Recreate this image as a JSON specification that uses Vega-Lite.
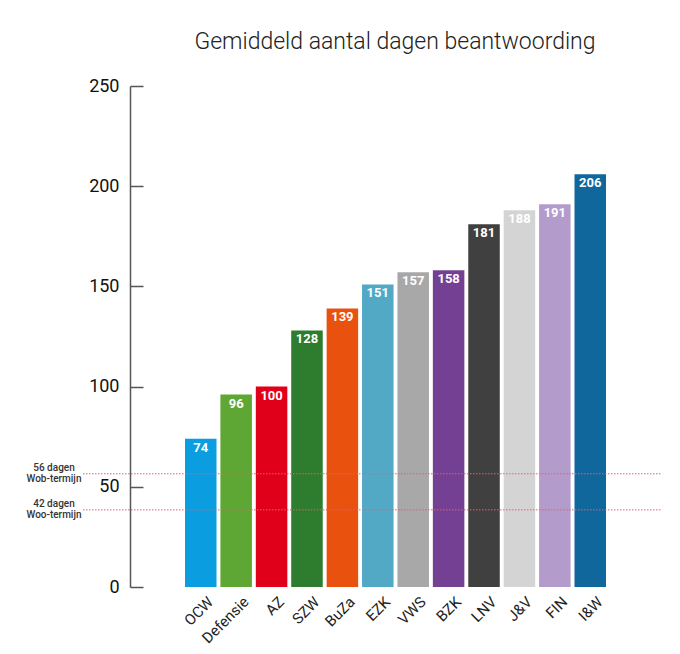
{
  "$schema": "https://vega.github.io/schema/vega-lite/v6.json",
  "width": 530,
  "height": 501,
  "autosize": {"type": "none"},
  "padding": {"left": 130, "top": 86, "right": 20, "bottom": 67},
  "background": "white",
  "config": {
    "font": "Roboto",
    "view": {"stroke": null}
  },
  "title": {
    "text": "Gemiddeld aantal dagen beantwoording",
    "fontSize": 23,
    "fontWeight": 300,
    "color": "#222222",
    "anchor": "middle",
    "offset": 23
  },
  "datasets": {
    "bars": [
      {"dept": "OCW", "dagen": 74},
      {"dept": "Defensie", "dagen": 96},
      {"dept": "AZ", "dagen": 100},
      {"dept": "SZW", "dagen": 128},
      {"dept": "BuZa", "dagen": 139},
      {"dept": "EZK", "dagen": 151},
      {"dept": "VWS", "dagen": 157},
      {"dept": "BZK", "dagen": 158},
      {"dept": "LNV", "dagen": 181},
      {"dept": "J&V", "dagen": 188},
      {"dept": "FIN", "dagen": 191},
      {"dept": "I&W", "dagen": 206}
    ],
    "termijnen": [
      {"pos": 56.5, "label": ["56 dagen", "Wob-termijn"]},
      {"pos": 38.5, "label": ["42 dagen", "Woo-termijn"]}
    ]
  },
  "layer": [
    {
      "data": {"name": "bars"},
      "mark": {"type": "bar"},
      "encoding": {
        "x": {
          "field": "dept",
          "type": "nominal",
          "sort": null,
          "scale": {"range": [55, 476], "paddingInner": 0.11, "paddingOuter": 0},
          "axis": {
            "title": null,
            "ticks": false,
            "domain": false,
            "labelAngle": -45,
            "labelFontSize": 15,
            "labelFontWeight": 400,
            "labelColor": "#222222",
            "labelPadding": 7,
            "labelOffset": 5
          }
        },
        "y": {
          "field": "dagen",
          "type": "quantitative",
          "scale": {"domain": [0, 250], "nice": false},
          "axis": {
            "title": null,
            "grid": false,
            "values": [0, 50, 100, 150, 200, 250],
            "tickSize": -13,
            "tickColor": "#555555",
            "tickWidth": 1.5,
            "domainColor": "#555555",
            "domainWidth": 1.5,
            "labelFontSize": 18,
            "labelColor": "#111111",
            "labelPadding": 24
          }
        },
        "color": {
          "field": "dept",
          "type": "nominal",
          "legend": null,
          "scale": {
            "domain": ["OCW", "Defensie", "AZ", "SZW", "BuZa", "EZK", "VWS", "BZK", "LNV", "J&V", "FIN", "I&W"],
            "range": ["#0a9ee0", "#5ea734", "#e1001a", "#2e7d2e", "#e8510e", "#52a9c5", "#a8a8a8", "#744093", "#404040", "#d4d4d4", "#b39ccb", "#10679c"]
          }
        }
      }
    },
    {
      "data": {"name": "bars"},
      "mark": {"type": "text", "baseline": "top", "dy": 3, "fontSize": 13, "fontWeight": "bold", "color": "white"},
      "encoding": {
        "x": {"field": "dept", "type": "nominal", "sort": null},
        "y": {"field": "dagen", "type": "quantitative"},
        "text": {"field": "dagen", "type": "quantitative"}
      }
    },
    {
      "data": {"name": "termijnen"},
      "mark": {"type": "rule", "color": "#e06070", "strokeWidth": 1, "strokeDash": [1.5, 1.5]},
      "encoding": {
        "y": {"field": "pos", "type": "quantitative"},
        "x": {"value": -47},
        "x2": {"value": 531}
      }
    },
    {
      "data": {"name": "termijnen"},
      "mark": {"type": "text", "align": "center", "baseline": "middle", "dy": -6, "fontSize": 10, "fontWeight": 500, "lineHeight": 11, "color": "#333333"},
      "encoding": {
        "y": {"field": "pos", "type": "quantitative"},
        "x": {"value": -76},
        "text": {"field": "label"}
      }
    },
    {
      "mark": {"type": "rule", "color": "#444444", "strokeWidth": 1.5},
      "encoding": {
        "x": {"value": 0},
        "x2": {"value": 530},
        "y": {"datum": 0}
      }
    },
    {
      "mark": {"type": "rule", "color": "#444444", "strokeWidth": 1.5},
      "encoding": {
        "x": {"value": 530},
        "y": {"datum": 0},
        "y2": {"datum": 6}
      }
    }
  ]
}
